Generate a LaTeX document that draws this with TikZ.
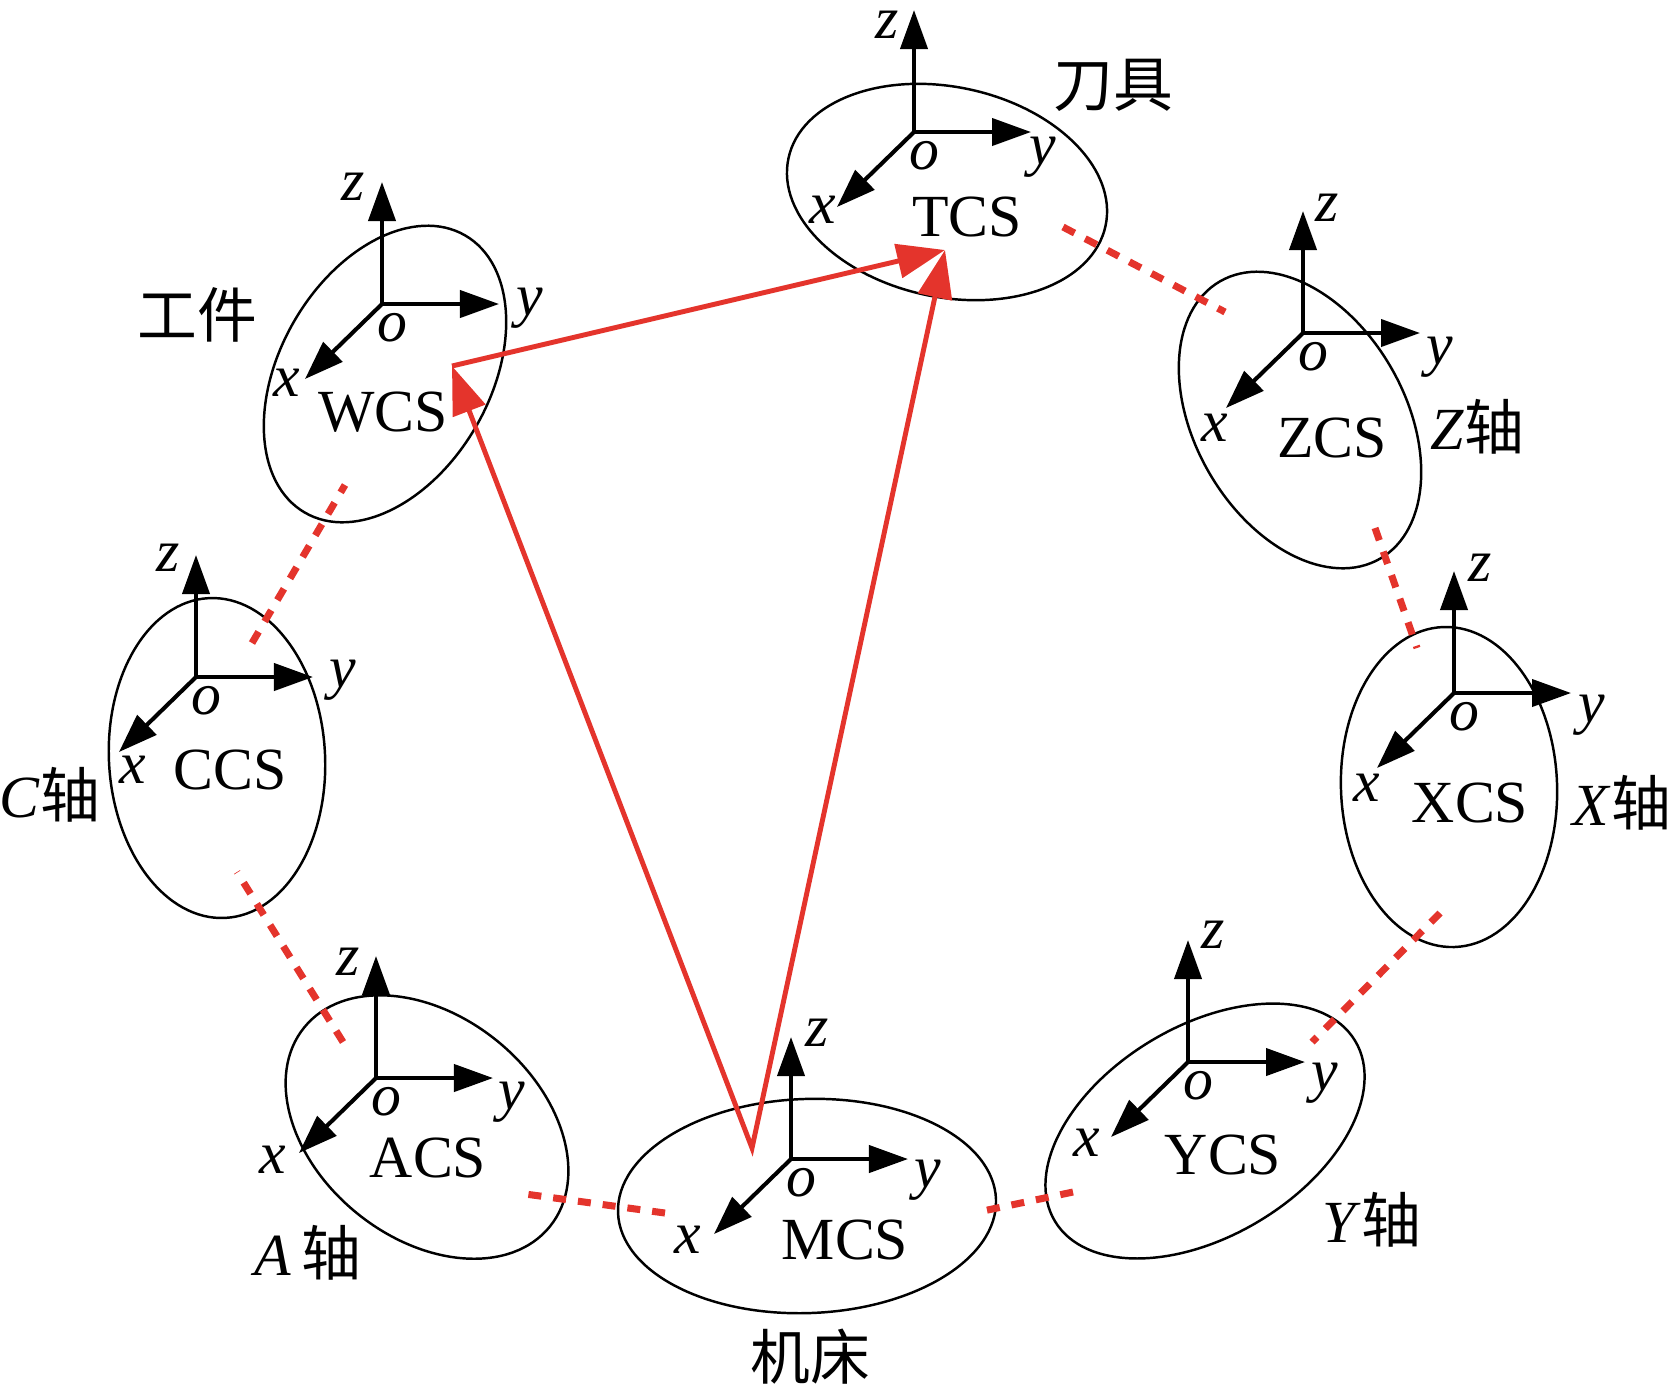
\documentclass[tikz,border=0pt]{standalone}
\usepackage{fontspec}
\setmainfont{Liberation Serif}
\newfontfamily\cjk{Noto Sans CJK SC}
\usetikzlibrary{arrows.meta, shapes.geometric}
\definecolor{linkred}{RGB}{228,52,44}

\begin{document}
\begin{tikzpicture}[x=0.01cm, y=-0.01cm,
    font=\fontsize{17}{20}\selectfont,
    btip/.tip={Triangle[length=0.39cm, width=0.27cm]},
    rtip/.tip={Triangle[length=0.48cm, width=0.34cm]},
    axis/.style={line width=1.15pt},
    cs/.style={ellipse, draw, line width=0.7pt, inner sep=0pt},
    link/.style={draw=linkred, line width=2pt, dash pattern=on 3.7pt off 3.4pt},
    vec/.style={draw=linkred, line width=1.4pt}]
    \useasboundingbox (0,0) rectangle (1677,1387);

    % the eight coordinate systems
    \node [cs, minimum width=3.24cm, minimum height=2.10cm, rotate=-12] (tcs) at (947,192)  {};
    \node [cs, minimum width=3.20cm, minimum height=2.10cm, rotate=60]  (wcs) at (385,374)  {};
    \node [cs, minimum width=3.20cm, minimum height=2.10cm, rotate=-60] (zcs) at (1300,420) {};
    \node [cs, minimum width=2.16cm, minimum height=3.20cm, rotate=2]   (xcs) at (1449,787) {};
    \node [cs, minimum width=3.50cm, minimum height=2.10cm, rotate=31]  (ycs) at (1205,1131) {};
    \node [cs, minimum width=3.78cm, minimum height=2.14cm, rotate=2]   (mcs) at (807,1206) {};
    \node [cs, minimum width=3.16cm, minimum height=2.22cm, rotate=-39] (acs) at (427,1127) {};
    \node [cs, minimum width=2.16cm, minimum height=3.20cm, rotate=3]   (ccs) at (217,758)  {};

    \node (tcs-l) at (967,217)  {TCS};
    \node (wcs-l) at (383,412)  {WCS};
    \node (zcs-l) at (1332,438) {ZCS};
    \node (xcs-l) at (1470,803) {XCS};
    \node (ycs-l) at (1223,1155) {YCS};
    \node (mcs-l) at (845,1240) {MCS};
    \node (acs-l) at (428,1158) {ACS};
    \node (ccs-l) at (230,770)  {CCS};

    \node (tool) at (1113,85)  {\cjk 刀具};
    \node (work) at (197,315)  {\cjk 工件};
    \node (mach) at (810,1357) {\cjk 机床};
    \node (zax)  at (1477,427)  {\textit{Z}{\cjk 轴}};
    \node (xax)  at (1622,803)  {\textit{X}{\cjk 轴}};
    \node (yax)  at (1372,1220) {\textit{Y}{\cjk 轴}};
    \node (aax)  at (308,1253)  {\textit{A}\,{\cjk 轴}};
    \node (cax)  at (50,795)    {\textit{C}{\cjk 轴}};

    % axes: origin, then offsets of the z, y and x labels
    \foreach \n/\x/\y/\zx/\zy/\yx/\yy/\xx/\xy in {
        T/914/132/-27/-107/129/25/-91/78,
        W/382/304/-29/-117/148/4/-95/79,
        Z/1303/333/24/-125/137/24/-88/95,
        X/1454/693/26/-125/138/22/-87/95,
        Y/1188/1062/25/-127/137/21/-101/81,
        M/791/1159/26/-126/137/21/-103/81,
        A/376/1078/-28/-116/136/24/-103/82,
        C/196/677/-28/-119/147/3/-63/93}
    {
        \coordinate (\n-o) at (\x,\y);
        \coordinate (\n-z) at (\x,\y-122);
        \coordinate (\n-y) at (\x+117,\y);
        \coordinate (\n-x) at (\x-77,\y+75);
        \draw [axis, btip-btip] (\n-z) -- (\n-o) -- (\n-y);
        \draw [axis, -btip] (\n-o) -- (\n-x);
        \node (\n-ol) at (\x+10,\y+24)      {\textit{o}};
        \node [inner sep=1pt] (\n-zl) at (\x+\zx,\y+\zy) {\textit{z}};
        \node (\n-yl) at (\x+\yx,\y+\yy)    {\textit{y}};
        \node (\n-xl) at (\x+\xx,\y+\xy)    {\textit{x}};
    }

    % Now draw the dashed links:
    \coordinate (tz1) at (1063,227);  \coordinate (tz2) at (1225,312);
    \coordinate (zx1) at (1375,528);  \coordinate (zx2) at (1417,648);
    \coordinate (xy1) at (1440,913);  \coordinate (xy2) at (1312,1042);
    \coordinate (ym1) at (1073,1192); \coordinate (ym2) at (978,1212);
    \coordinate (ma1) at (665,1213);  \coordinate (ma2) at (518,1193);
    \coordinate (ac1) at (343,1042);  \coordinate (ac2) at (237,872);
    \coordinate (cw1) at (252,643);   \coordinate (cw2) at (345,485);
    \draw [link] (tz1) -- (tz2);
    \draw [link] (zx1) -- (zx2);
    \draw [link] (xy1) -- (xy2);
    \draw [link] (ym1) -- (ym2);
    \draw [link] (ma1) -- (ma2);
    \draw [link] (ac1) -- (ac2);
    \draw [link] (cw1) -- (cw2);

    % the transforms
    \coordinate (apex) at (752,1148);
    \coordinate (wp) at (452,366);
    \coordinate (tp) at (945,250);
    \draw [vec, rtip-rtip] (wp) -- (apex) -- (tp);
    \draw [vec, -rtip] (wp) -- (tp);
\end{tikzpicture}
\end{document}
